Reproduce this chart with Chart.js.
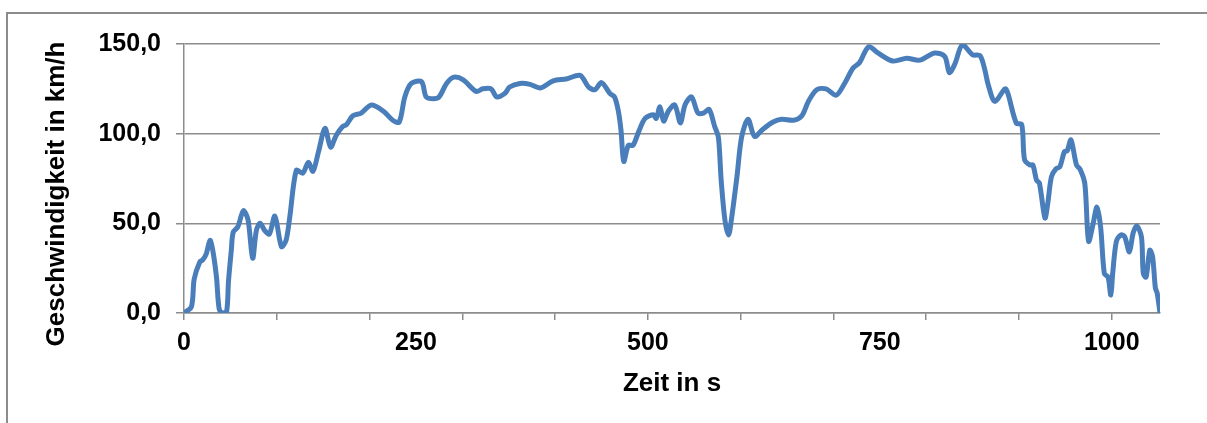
<!DOCTYPE html>
<html>
<head>
<meta charset="utf-8">
<script src="https://cdn.jsdelivr.net/npm/chart.js@4.4.1/dist/chart.umd.min.js"></script>
<style>
  html, body { margin: 0; padding: 0; background: #fff; }
  #wrap { position: relative; width: 1207px; height: 423px; }
  /* grey frame of the Excel chart object, only left and top edges are visible */
  #frame { position: absolute; left: 6px; top: 12px; right: 0; bottom: 0;
           border-left: 2px solid #8c8c8c; border-top: 2px solid #8c8c8c; pointer-events: none; }
</style>
</head>
<body>
<div id="wrap">
  <canvas id="speedChart" width="1207" height="423"></canvas>
  <div id="frame"></div>
</div>
<script>
// Zeit in s
const zeit = [
  0, 8, 11, 17, 20, 24, 28, 31, 35, 38, 42, 46, 48, 51, 53, 58, 64, 69, 74, 78,
  82, 87, 92, 98, 105, 110, 114, 121, 128, 134, 139, 145, 152, 158, 164, 171, 175, 182, 191, 202,
  215, 225, 232, 238, 245, 256, 261, 269, 275, 283, 291, 301, 315, 322, 331, 337, 346, 351, 362, 373,
  384, 398, 412, 427, 436, 443, 450, 459, 464, 468, 471, 474, 479, 484, 490, 497, 506, 509, 513, 517,
  522, 529, 535, 540, 547, 554, 560, 566, 572, 576, 579, 583, 587, 590, 596, 601, 608, 615, 624, 635,
  644, 657, 666, 673, 682, 692, 703, 712, 721, 728, 738, 748, 764, 779, 793, 809, 820, 825, 831, 839,
  850, 858, 863, 867, 874, 885, 888, 897, 903, 906, 912, 915, 919, 922, 928, 931, 935, 940, 944, 949,
  952, 956, 962, 966, 971, 975, 980, 984, 988, 992, 996, 999, 1001, 1005, 1010, 1014, 1019, 1023, 1027, 1032,
  1034, 1037, 1041, 1044, 1047, 1049, 1052
];
// Geschwindigkeit in km/h
const geschwindigkeit = [
  0, 3.5, 19, 28.5, 29.5, 33, 40.5, 35, 20, 2, 0, 1, 18, 35, 45, 48, 57, 52, 30.5, 46,
  50, 46, 44, 54, 37, 40.5, 53.5, 79.5, 78, 84, 79, 90, 103, 92.5, 99, 104, 105, 110, 111.5, 116,
  112.5, 107.5, 106.5, 120.5, 128, 129, 120.5, 119.5, 120.5, 128, 131.5, 130, 123.5, 125, 125, 120.5, 122.5, 126, 128, 127.5,
  125.5, 129.5, 130.5, 132.5, 126, 124.5, 128.5, 122.5, 120.5, 113, 102, 84.5, 93.5, 93.5, 101, 108.5, 110.5, 108.5, 115, 107,
  112.5, 116, 106, 116, 120.5, 111.5, 111.5, 113.5, 104, 98, 74, 52, 43.5, 52, 76, 98, 108, 98.5, 102.5, 106.5,
  108, 107.5, 110, 118, 124.5, 125, 121.5, 128, 136.5, 139.5, 148.5, 145, 140.5, 142, 141, 145, 143, 134, 139, 149.5,
  144, 143.5, 136, 127, 118, 125, 122.5, 106, 105, 85.5, 82.5, 82.5, 74, 72.5, 53, 61, 76, 80.5, 81.5, 90,
  90.5, 96.5, 82.5, 80, 72, 40, 50, 59, 48, 22, 20, 10, 22, 40, 43.5, 42.5, 34, 44.5, 48.5, 42.5,
  22, 20, 35, 31.5, 14, 11, 0
];
const yTicks = [0, 50, 100, 150];
const xLabels = [0, 250, 500, 750, 1000];
const xTickMarks = [0, 100, 200, 300, 400, 500, 600, 700, 800, 900, 1000];
const yTitle = 'Geschwindigkeit in km/h';

const axisGrey = '#8c8c8c';
const fontFamily = '"Liberation Sans", Arial, sans-serif';
const fontBold = { family: fontFamily, size: 25, weight: 'bold' };

// Excel puts the y title a bit lower than the plot centre, so draw it by hand
const yTitlePlugin = {
  id: 'yTitle',
  afterDraw(chart) {
    const c = chart.ctx;
    c.save();
    c.translate(57, 194);
    c.rotate(-Math.PI / 2);
    c.font = 'bold 26px ' + fontFamily;
    c.fillStyle = '#000';
    c.textAlign = 'center';
    c.textBaseline = 'middle';
    c.fillText(yTitle, 0, 0);
    c.restore();
  }
};

const ctx = document.getElementById('speedChart');
new Chart(ctx, {
  type: 'line',
  data: {
    datasets: [{
      data: zeit.map((t, i) => ({ x: t, y: geschwindigkeit[i] })),
      borderColor: '#4a7ebb',
      borderWidth: 5,
      pointRadius: 0,
      tension: 0.3,
      fill: false
    }]
  },
  options: {
    responsive: false,
    animation: false,
    layout: { padding: { left: 41, right: 47, top: 44, bottom: 24 } },
    plugins: { legend: { display: false }, tooltip: { enabled: false } },
    scales: {
      x: {
        type: 'linear',
        min: 0,
        max: 1052,
        // ticks every 50 s so the 250/750 labels exist; marks only on the 100 s steps
        afterBuildTicks: scale => {
          const t = [];
          for (let v = 0; v <= 1050; v += 50) t.push({ value: v });
          scale.ticks = t;
        },
        afterFit: scale => { scale.height = 86; },
        grid: {
          drawOnChartArea: false,
          tickLength: 7,
          lineWidth: 1.5,
          tickColor: c => (c.tick && xTickMarks.includes(c.tick.value)) ? axisGrey : 'rgba(0,0,0,0)'
        },
        border: { color: axisGrey, width: 1.5 },
        ticks: {
          autoSkip: false,
          maxRotation: 0,
          padding: 8,
          color: '#000',
          font: fontBold,
          callback: v => xLabels.includes(v) ? String(v) : ''
        },
        title: { display: true, text: 'Zeit in s', color: '#000', font: { family: fontFamily, size: 26, weight: 'bold' }, padding: 0 }
      },
      y: {
        min: 0,
        max: 150,
        afterBuildTicks: scale => { scale.ticks = yTicks.map(v => ({ value: v })); },
        afterFit: scale => { scale.width = 143; },
        grid: { color: axisGrey, lineWidth: 1.5, tickLength: 8 },
        border: { color: axisGrey, width: 1.5 },
        ticks: {
          padding: 15,
          color: '#000',
          font: fontBold,
          callback: v => v.toFixed(1).replace('.', ',')
        }
      }
    }
  },
  plugins: [yTitlePlugin]
});
</script>
</body>
</html>
